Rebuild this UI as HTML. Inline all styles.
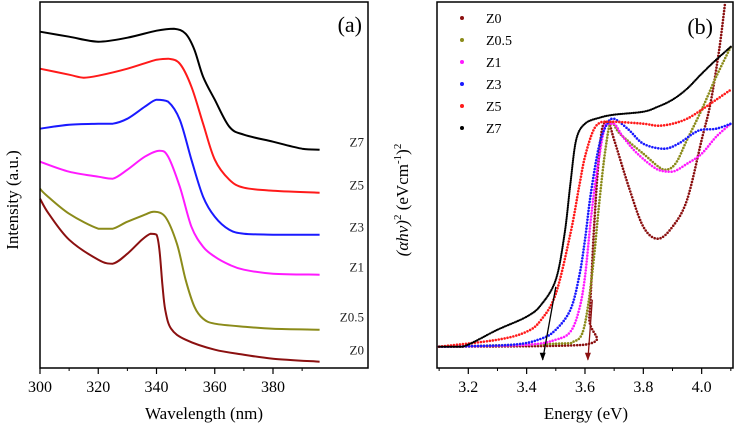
<!DOCTYPE html>
<html><head><meta charset="utf-8"><style>
html,body{margin:0;padding:0;background:#fff;}
svg{display:block;font-family:"Liberation Serif",serif;}
</style></head><body>
<svg id="chart" width="734" height="427" viewBox="0 0 734 427" xmlns="http://www.w3.org/2000/svg"></svg>
<script>
// Panel (a) data: wavelength (nm) and intensity (a.u.)
const aNames = ["Z0","Z0.5","Z1","Z3","Z5","Z7"];
const aColors = ["#8b1010","#8b8b1a","#ff1aff","#1a1aff","#ff1a1a","#000000"];
const aZ0x = [300,303,310,320,325,330,335,338,340,341,342,343,345,350,360,370,380,396];
const aZ0y = [169,154,128,108,104,114,128,134,133,118,84,58,39,28,18,13,9,6];
const aZ05x = [300,302,310,320,325,330,336,339,343,347,350,353,356,360,370,380,396];
const aZ05y = [179,173,154,139,139,146,153,156,151,124,88,61,49,44,41,39,38];
const aZ1x = [300,310,320,325,330,336,341,344,348,352,356,360,365,370,380,396];
const aZ1y = [206,196,191,189,198,211,217,211,181,141,121,111,103,98,94,93];
const aZ3x = [300,310,320,325,330,336,340,344,348,352,356,360,365,370,380,396];
const aZ3y = [239,243,244,244,249,261,268,266,248,208,171,151,138,134,133,133];
const aZ5x = [300,310,315,320,330,340,344,348,352,356,360,365,370,380,396];
const aZ5y = [299,293,290,292,299,308,309,304,281,244,208,188,180,177,175];
const aZ7x = [300,310,320,330,340,346,350,353,356,360,365,370,380,390,396];
const aZ7y = [336,331,326,330,337,339,334,318,291,268,241,233,226,219,218];
const aXTicks = [300,320,340,360,380];
const aLabelY = [9,42,92,132,174,217];

// Panel (b) data: energy (eV) and (αhν)^2 (a.u.)
const bNames = ["Z0","Z0.5","Z1","Z3","Z5","Z7"];
const bZ0x = [3.1,3.6,3.615,3.63,3.645,3.66,3.68,3.7,3.75,3.8,3.85,3.9,3.95,4.0,4.03,4.06,4.08];
const bZ0y = [21,23,51,134,201,241,246,228,181,141,129,141,168,228,264,318,364];
const bZ05x = [3.1,3.5,3.56,3.59,3.61,3.63,3.65,3.67,3.69,3.72,3.8,3.87,3.91,3.95,4.0,4.05,4.1];
const bZ05y = [21,24,26,34,61,108,168,218,246,234,214,198,204,228,258,291,321];
const bZ1x = [3.1,3.4,3.5,3.55,3.58,3.6,3.62,3.64,3.67,3.7,3.73,3.78,3.85,3.9,3.95,4.0,4.05,4.1];
const bZ1y = [21,23,28,36,58,91,148,194,243,244,231,214,198,196,204,214,231,244];
const bZ3x = [3.1,3.35,3.45,3.5,3.55,3.58,3.6,3.62,3.65,3.68,3.7,3.75,3.8,3.87,3.92,3.97,4.0,4.05,4.1];
const bZ3y = [21,23,29,38,58,91,128,174,224,246,249,238,224,219,224,234,238,239,244];
const bZ5x = [3.1,3.3,3.4,3.45,3.5,3.55,3.58,3.6,3.63,3.66,3.7,3.8,3.85,3.9,3.95,4.0,4.05,4.1];
const bZ5y = [21,28,36,48,74,134,181,211,238,246,246,244,242,244,249,258,268,278];
const bZ7x = [3.1,3.18,3.3,3.4,3.45,3.5,3.53,3.55,3.57,3.6,3.65,3.7,3.8,3.85,3.9,3.95,4.0,4.05,4.1];
const bZ7y = [21,21,38,51,63,88,134,184,228,244,250,253,256,261,268,279,294,308,321];
const bXTicks = [3.2,3.4,3.6,3.8,4.0];
const bArrowsE = [[3.5,3.455],[3.625,3.61]];
const bArrowsV = [[81,8],[68,8]];

const NS="http://www.w3.org/2000/svg";
const svg=document.getElementById('chart');
function mk(t,attrs,parent){const e=document.createElementNS(NS,t);for(const k in attrs)e.setAttribute(k,attrs[k]);(parent||svg).appendChild(e);return e;}
function clamp(v,a,b){const lo=Math.min(a,b),hi=Math.max(a,b);return Math.max(lo,Math.min(hi,v));}
function smooth(P){
  let d='M'+P[0][0].toFixed(1)+','+P[0][1].toFixed(1);
  for(let i=0;i<P.length-1;i++){
    const p0=P[Math.max(0,i-1)],p1=P[i],p2=P[i+1],p3=P[Math.min(P.length-1,i+2)];
    const c1=[p1[0]+(p2[0]-p0[0])/6,clamp(p1[1]+(p2[1]-p0[1])/6,p1[1],p2[1])];
    const c2=[p2[0]-(p3[0]-p1[0])/6,clamp(p2[1]-(p3[1]-p1[1])/6,p1[1],p2[1])];
    d+=` C${c1[0].toFixed(1)},${c1[1].toFixed(1)} ${c2[0].toFixed(1)},${c2[1].toFixed(1)} ${p2[0].toFixed(1)},${p2[1].toFixed(1)}`;
  }
  return d;
}

const aL=40,aR=368,aT=2,aB=368;
const ax=v=>aL+(v-300)*(273-40)/80;
const ay=v=>367.7-v;
const bL=437,bR=733,bT=2,bB=368;
const bx=v=>468.3+(v-3.2)*291.7;
const by=v=>367.7-v;

// Panel a
const ga=mk('g',{});


const aXs=[aZ0x,aZ05x,aZ1x,aZ3x,aZ5x,aZ7x], aYs=[aZ0y,aZ05y,aZ1y,aZ3y,aZ5y,aZ7y];
aNames.forEach((n,i)=>{
  const P=aXs[i].map((x,j)=>[ax(x),ay(aYs[i][j])]);
  const p=mk('path',{d:smooth(P),fill:'none',stroke:aColors[i],'stroke-width':2,'stroke-linejoin':'round'},ga);
  
  
  const t=mk('text',{x:364,y:ay(aLabelY[i])-4,'font-size':13,'text-anchor':'end',fill:'#222'},ga);
  t.textContent=n;
  
  
});
const fa=mk('rect',{x:aL,y:aT,width:aR-aL,height:aB-aT,fill:'none',stroke:'#000','stroke-width':1.5},ga);


aXTicks.forEach(v=>{
  mk('line',{x1:ax(v),x2:ax(v),y1:aB,y2:aB+6,stroke:'#000','stroke-width':1.2},ga);
  mk('line',{x1:ax(v+10),x2:ax(v+10),y1:aB,y2:aB+3,stroke:'#000','stroke-width':1},ga);
  const t=mk('text',{x:ax(v),y:aB+24,'font-size':16,'text-anchor':'middle'},ga);
  t.textContent=v;
  
  
});
let t=mk('text',{x:204,y:419,'font-size':17,'text-anchor':'middle'},ga);t.textContent='Wavelength (nm)';

t=mk('text',{x:0,y:0,'font-size':17,'text-anchor':'middle',transform:'translate(18,200) rotate(-90)'},ga);t.textContent='Intensity (a.u.)';

t=mk('text',{x:362,y:32,'font-size':22,'text-anchor':'end'},ga);t.textContent='(a)';


// Panel b
const gb=mk('g',{});


const cp=mk('clipPath',{id:'cb'},gb);mk('rect',{x:bL,y:bT,width:bR-bL,height:bB-bT},cp);
const bXs=[bZ0x,bZ05x,bZ1x,bZ3x,bZ5x,bZ7x], bYs=[bZ0y,bZ05y,bZ1y,bZ3y,bZ5y,bZ7y];
bNames.forEach((n,i)=>{
  const P=bXs[i].map((x,j)=>[bx(x),by(bYs[i][j])]);
  const p=mk('path',{d:smooth(P),fill:'none',stroke:aColors[i],'stroke-width':i==5?2.2:2.6,'stroke-linecap':'round','stroke-dasharray':i==5?'0 1.8':'0 3','clip-path':'url(#cb)'},gb);
  
  
  const ly=18+i*22;
  const d=mk('circle',{cx:462,cy:ly,r:2,fill:aColors[i]},gb);
  
  
  const lt=mk('text',{x:486,y:ly+5,'font-size':14},gb);lt.textContent=n;
  
  
});
bArrowsE.forEach((e,i)=>{
  const c=i==0?'#000':'#8b1010';
  const x1=bx(e[0]),y1=by(bArrowsV[i][0]),x2=bx(e[1]),y2=by(bArrowsV[i][1]);
  const l=mk('line',{x1:x1,y1:y1,x2:x2,y2:y2,stroke:c,'stroke-width':1.3},gb);
  
  
  mk('polygon',{points:`${x2-3},${y2-7} ${x2+3},${y2-7} ${x2},${y2+1}`,fill:c},gb);
});
const fb=mk('rect',{x:bL,y:bT,width:bR-bL,height:bB-bT,fill:'none',stroke:'#000','stroke-width':1.5},gb);


bXTicks.forEach(v=>{
  mk('line',{x1:bx(v),x2:bx(v),y1:bB,y2:bB+6,stroke:'#000','stroke-width':1.2},gb);
  mk('line',{x1:bx(v-0.1),x2:bx(v-0.1),y1:bB,y2:bB+3,stroke:'#000','stroke-width':1},gb);
  const tt=mk('text',{x:bx(v),y:bB+24,'font-size':16,'text-anchor':'middle'},gb);
  tt.textContent=v.toFixed(1);
  
  
});
mk('line',{x1:bx(4.1),x2:bx(4.1),y1:bB,y2:bB+3,stroke:'#000','stroke-width':1},gb);
t=mk('text',{x:586,y:419,'font-size':17,'text-anchor':'middle'},gb);t.textContent='Energy (eV)';

t=mk('text',{x:0,y:0,'font-size':17,'text-anchor':'middle',transform:'translate(408,200) rotate(-90)'},gb);
t.innerHTML='<tspan font-style="italic">(αhν)</tspan><tspan font-size="11" dy="-7">2</tspan><tspan dy="7"> (eVcm</tspan><tspan font-size="11" dy="-7">-1</tspan><tspan dy="7">)</tspan><tspan font-size="11" dy="-7">2</tspan>';

t=mk('text',{x:713,y:34,'font-size':22,'text-anchor':'end'},gb);t.textContent='(b)';

</script>
</body></html>
